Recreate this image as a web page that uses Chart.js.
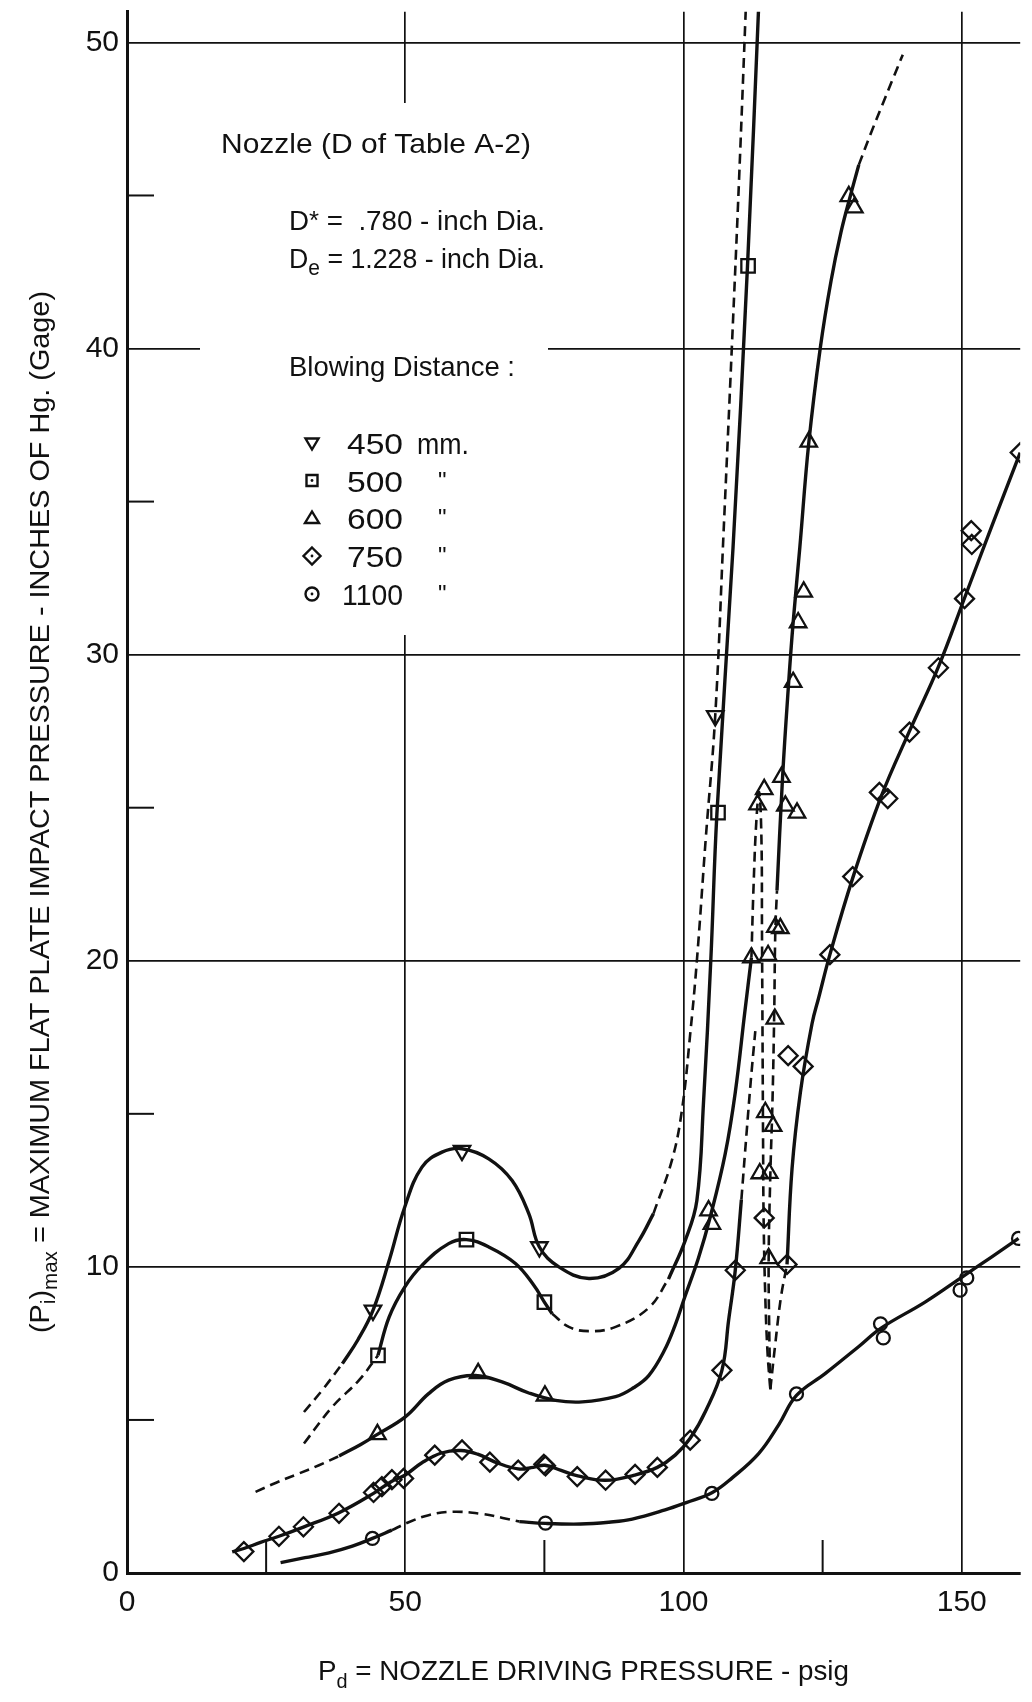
<!DOCTYPE html>
<html>
<head>
<meta charset="utf-8">
<title>Maximum flat plate impact pressure vs nozzle driving pressure</title>
<style>
  html, body { margin: 0; padding: 0; background: #fff; }
  #wrap { width: 1032px; height: 1702px; position: relative; }
  canvas { display: block; }
</style>
<script src="https://cdn.jsdelivr.net/npm/chart.js@4.4.1/dist/chart.umd.min.js"></script>
</head>
<body>
<div id="wrap"><canvas id="chart" width="1032" height="1702"></canvas></div>
<script>
// ---- axes ----
const xTicks = [0, 50, 100, 150];
const yTicks = [0, 10, 20, 30, 40, 50];
const xMinorTicks = [25, 75, 125];
const yMinorTicks = [5, 15, 25, 35, 45];
const xRange = [0, 160.5];
const yRange = [0, 51];

// ---- blowing distances (mm) ----
const seriesNames = ['450', '500', '600', '750', '1100'];

// ---- measured points [Pd psig, Pi in. Hg] ----
const pts450 = [[44.2, 8.58], [60.2, 13.8], [74.1, 10.65], [105.7, 28.0]];
const pts500 = [[45.1, 7.11], [61.0, 10.89], [75.0, 8.85], [106.2, 24.84], [111.6, 42.7]];
const pts600 = [
  [45.0, 4.53], [63.1, 6.52], [75.1, 5.79],
  [104.5, 11.84], [105.1, 11.4],
  [112.2, 20.1], [113.3, 25.1], [114.5, 25.6],
  [115.2, 20.18], [116.5, 21.1], [117.4, 21.06], [116.4, 18.1],
  [114.7, 15.05], [116.1, 14.6], [113.7, 13.05], [115.4, 13.06], [115.3, 10.28],
  [117.6, 26.0], [118.3, 25.06], [120.4, 24.83], [119.7, 29.1], [120.6, 31.05],
  [121.6, 32.05], [122.5, 36.95], [129.7, 44.97], [130.7, 44.6]
];
const pts750 = [
  [21.0, 0.7], [27.3, 1.2], [31.7, 1.51], [38.1, 1.95], [44.3, 2.63], [45.8, 2.82],
  [47.6, 3.05], [49.7, 3.09], [55.3, 3.85], [60.2, 4.02], [65.2, 3.62], [70.3, 3.36],
  [74.9, 3.55], [75.2, 3.5], [80.9, 3.15], [86.0, 3.03], [91.3, 3.22], [95.3, 3.45],
  [101.2, 4.34], [106.9, 6.62], [109.3, 9.89], [114.5, 11.6],
  [118.6, 10.08], [118.8, 16.9], [121.5, 16.55], [126.3, 20.2], [130.4, 22.75],
  [135.2, 25.5], [136.7, 25.3], [140.6, 27.47], [145.8, 29.57], [150.5, 31.83],
  [151.7, 34.05], [151.8, 33.6], [160.5, 36.6]
];
const pts1100 = [
  [44.1, 1.13], [75.2, 1.63], [105.1, 2.6], [120.3, 5.85], [135.4, 8.14],
  [135.9, 7.68], [149.7, 9.24], [150.9, 9.64], [160.2, 10.93]
];

// ---- faired curves, split where the line changes between solid and dashed ----
const c450a = [[31.8, 5.26], [35.2, 6.0], [38.7, 6.84]];
const c450b = [[38.7, 6.84], [41.5, 7.62], [44.2, 8.58], [47.1, 10.2], [49.9, 11.95], [53.0, 13.26],
  [56.6, 13.75], [60.2, 13.86], [65.0, 13.53], [69.2, 12.82], [72.2, 11.74], [74.1, 10.65],
  [77.6, 10.0], [83.0, 9.62], [88.4, 9.95], [92.0, 10.86], [94.6, 11.74]];
const c450c = [[94.6, 11.74], [97.9, 13.47], [99.7, 15.1], [101.2, 17.6], [102.4, 20.0],
  [104.0, 24.0], [105.7, 28.0], [107.2, 34.0], [108.7, 40.1], [110.0, 45.6], [111.3, 51.6]];

const c500a = [[31.8, 4.23], [36.9, 5.43], [41.7, 6.3], [45.1, 7.11]];
const c500b = [[45.1, 7.11], [47.1, 8.36], [49.9, 9.34], [53.0, 10.05], [57.8, 10.76], [61.0, 10.89],
  [65.0, 10.65], [69.8, 10.11], [73.1, 9.4], [75.0, 8.85], [76.4, 8.47]];
const c500c = [[76.4, 8.47], [79.4, 8.04], [83.0, 7.9], [87.8, 8.04], [93.75, 8.66], [97.3, 9.6]];
const c500d = [[97.3, 9.6], [100.3, 10.86], [102.4, 12.17], [103.6, 15.4], [104.9, 20.0],
  [106.0, 24.8], [108.9, 33.5], [111.5, 42.7], [113.6, 51.6]];

const c600a = [[23.1, 2.65], [26.8, 2.95], [30.9, 3.25], [34.5, 3.52], [38.1, 3.82]];
const c600b = [[38.1, 3.82], [42.0, 4.2], [45.0, 4.53], [50.0, 5.1], [54.2, 5.86], [57.8, 6.3],
  [62.6, 6.45], [67.4, 6.24], [72.2, 5.88], [77.0, 5.64], [81.8, 5.59], [87.8, 5.76],
  [91.0, 6.05], [93.75, 6.45], [96.5, 7.25], [98.5, 8.1], [100.2, 9.0], [102.7, 10.3],
  [104.8, 11.63], [107.5, 13.7], [109.3, 15.7], [111.0, 18.3], [112.2, 20.1]];
const c600c = [[112.2, 20.1], [112.6, 22.5], [113.1, 24.6], [113.6, 25.5], [114.0, 24.0],
  [114.1, 21.0], [114.2, 17.5], [114.3, 14.0], [114.4, 11.5], [114.7, 9.0], [115.1, 7.2], [115.6, 6.0]];
const c600d = [[115.6, 6.0], [115.4, 8.0], [115.3, 10.28], [115.6, 13.0], [116.0, 15.5],
  [116.3, 18.3], [116.5, 21.0], [116.8, 22.3]];
const c600e = [[116.8, 22.3], [117.8, 26.0], [118.9, 29.1], [119.7, 31.05], [120.9, 33.5],
  [122.5, 36.9], [124.6, 40.05], [126.5, 42.2], [128.3, 43.8], [130.0, 45.0], [131.5, 46.0]];
const c600f = [[131.5, 46.0], [133.6, 47.0], [135.7, 47.95], [137.6, 48.8], [139.4, 49.6]];

const c750a = [[18.9, 0.69], [21.0, 0.8], [24.0, 1.0], [27.3, 1.2], [31.7, 1.5], [38.1, 1.97],
  [44.3, 2.6], [47.6, 3.0], [50.0, 3.2], [53.0, 3.6], [56.5, 3.92], [60.0, 4.0], [63.0, 3.88],
  [66.5, 3.6], [70.3, 3.4], [73.0, 3.45], [75.1, 3.52], [78.0, 3.35], [81.0, 3.17], [86.0, 3.03],
  [91.2, 3.2], [95.3, 3.45], [98.5, 3.85], [101.2, 4.4], [104.0, 5.3], [106.9, 6.62],
  [108.1, 8.25], [109.3, 9.89], [110.4, 12.2]];
const c750b = [[110.4, 12.2], [111.3, 14.3], [112.1, 16.1], [112.9, 17.7]];
const c750c = [[115.6, 6.0], [116.5, 7.5], [117.5, 9.0], [118.6, 10.08]];
const c750d = [[118.6, 10.08], [119.5, 13.2], [121.0, 15.7], [123.1, 17.95], [124.3, 18.8],
  [126.3, 20.2], [130.4, 22.7], [135.6, 25.4], [140.6, 27.5], [145.8, 29.6], [150.5, 31.85],
  [155.5, 34.25], [160.5, 36.6]];

const c1100a = [[27.6, 0.34], [32.0, 0.5], [36.3, 0.66], [40.5, 0.88], [44.1, 1.13], [47.6, 1.4]];
const c1100b = [[47.6, 1.4], [50.5, 1.65], [54.2, 1.89], [58.5, 2.0], [63.8, 1.93], [67.5, 1.8], [70.5, 1.68]];
const c1100c = [[70.5, 1.68], [75.2, 1.62], [81.5, 1.6], [86.6, 1.66], [90.8, 1.76], [96.7, 2.06],
  [100.5, 2.3], [105.1, 2.62], [108.7, 3.1], [113.5, 3.9], [117.1, 4.84], [120.3, 5.8],
  [125.5, 6.52], [131.5, 7.4], [135.5, 8.0], [143.4, 8.85], [150.3, 9.7], [155.4, 10.33], [160.2, 10.93]];

// ---- styling ----
const INK = '#111';
const FONT = '"Liberation Sans", Arial, sans-serif';

const toXY = arr => arr.map(([x, y]) => ({ x, y }));

function curve(arr, dashed) {
  return {
    type: 'line',
    data: toXY(arr),
    borderColor: INK,
    borderWidth: dashed ? 2.6 : 3.4,
    borderDash: dashed ? [10, 6] : [],
    pointRadius: 0,
    tension: 0.4,
    fill: false
  };
}

function markers(arr, style, radius, rotation) {
  return {
    type: 'line',
    data: toXY(arr),
    showLine: false,
    pointStyle: style,
    pointRadius: radius,
    pointRotation: rotation || 0,
    pointBorderWidth: 2.3,
    pointBorderColor: INK,
    pointBackgroundColor: 'rgba(255,255,255,0)'
  };
}

const datasets = [
  curve(c450a, true), curve(c450b, false), curve(c450c, true),
  curve(c500a, true), curve(c500b, false), curve(c500c, true), curve(c500d, false),
  curve(c600a, true), curve(c600b, false), curve(c600c, true), curve(c600d, true),
  curve(c600e, false), curve(c600f, true),
  curve(c750a, false), curve(c750b, true), curve(c750c, true), curve(c750d, false),
  curve(c1100a, false), curve(c1100b, true), curve(c1100c, false),
  markers(pts450, 'triangle', 9.5, 180),
  markers(pts500, 'rect', 9.5),
  markers(pts600, 'triangle', 9.5),
  markers(pts750, 'rectRot', 9.5),
  markers(pts1100, 'circle', 6.5)
];

// ---- text helpers: runs of text fitted to a given width ----
function runsWidth(ctx, runs) {
  let w = 0;
  runs.forEach(r => { ctx.font = r.px + 'px ' + FONT; w += ctx.measureText(r.t).width; });
  return w;
}
function drawRuns(ctx, runs, x, y, targetW) {
  const natural = runsWidth(ctx, runs);
  const sx = targetW ? targetW / natural : 1;
  ctx.save();
  ctx.translate(x, y);
  ctx.scale(sx, 1);
  ctx.textBaseline = 'alphabetic';
  ctx.textAlign = 'left';
  let cx = 0;
  runs.forEach(r => {
    ctx.font = r.px + 'px ' + FONT;
    ctx.fillText(r.t, cx, r.dy || 0);
    cx += ctx.measureText(r.t).width;
  });
  ctx.restore();
}
function legendGlyph(ctx, style, x, y) {
  ctx.save();
  ctx.strokeStyle = INK;
  ctx.fillStyle = INK;
  ctx.lineWidth = 2.4;
  ctx.beginPath();
  if (style === 'down') {
    ctx.moveTo(x - 6.5, y - 4.5); ctx.lineTo(x + 6.5, y - 4.5); ctx.lineTo(x, y + 6.5); ctx.closePath();
  } else if (style === 'rect') {
    ctx.rect(x - 5.5, y - 5.5, 11, 11);
  } else if (style === 'up') {
    ctx.moveTo(x - 7, y + 5); ctx.lineTo(x + 7, y + 5); ctx.lineTo(x, y - 6.5); ctx.closePath();
  } else if (style === 'diamond') {
    ctx.moveTo(x, y - 8.5); ctx.lineTo(x + 8.5, y); ctx.lineTo(x, y + 8.5); ctx.lineTo(x - 8.5, y); ctx.closePath();
  } else {
    ctx.arc(x, y, 6.5, 0, Math.PI * 2);
  }
  ctx.stroke();
  if (style !== 'down' && style !== 'up') {
    ctx.beginPath(); ctx.arc(x, y, 1.4, 0, Math.PI * 2); ctx.fill();
  }
  ctx.restore();
}

const sheetDecor = {
  id: 'sheetDecor',
  beforeDatasetsDraw(chart) {
    const { ctx, scales: { x, y } } = chart;
    ctx.save();
    // minor ticks along both axes
    ctx.strokeStyle = INK;
    ctx.lineWidth = 2;
    yMinorTicks.forEach(v => {
      const py = y.getPixelForValue(v);
      ctx.beginPath(); ctx.moveTo(x.left, py); ctx.lineTo(x.left + 27, py); ctx.stroke();
    });
    xMinorTicks.forEach(v => {
      const px = x.getPixelForValue(v);
      ctx.beginPath(); ctx.moveTo(px, y.bottom); ctx.lineTo(px, y.bottom - 33); ctx.stroke();
    });
    // the notes block interrupts the grid
    ctx.fillStyle = '#fff';
    ctx.fillRect(200, 103, 348, 532);

    ctx.fillStyle = INK;
    drawRuns(ctx, [{ t: 'Nozzle (D of Table A-2)', px: 28 }], 221, 153, 310);
    drawRuns(ctx, [{ t: 'D', px: 28 }, { t: '*', px: 26, dy: -1 }, { t: ' =  .780 - inch Dia.', px: 28 }], 289, 230, 256);
    drawRuns(ctx, [{ t: 'D', px: 28 }, { t: 'e', px: 22, dy: 7 }, { t: ' = 1.228 - inch Dia.', px: 28 }], 289, 268, 256);
    drawRuns(ctx, [{ t: 'Blowing Distance :', px: 28 }], 289, 376, 226);

    const glyphs = ['down', 'rect', 'up', 'diamond', 'circle'];
    const rowsY = [443, 480.5, 518, 556, 594];
    seriesNames.forEach((name, i) => {
      legendGlyph(ctx, glyphs[i], 312, rowsY[i]);
      const left = name.length > 3 ? 342 : 347;
      const w = name.length > 3 ? 61 : 56;
      drawRuns(ctx, [{ t: name, px: 30 }], left, rowsY[i] + 11, w);
      if (i === 0) {
        drawRuns(ctx, [{ t: 'mm.', px: 30 }], 417, rowsY[i] + 11, 52);
      } else {
        drawRuns(ctx, [{ t: '"', px: 24 }], 438, rowsY[i] + 8);
      }
    });

    // axis titles
    drawRuns(ctx, [{ t: 'P', px: 28 }, { t: 'd', px: 20, dy: 8 }, { t: ' = NOZZLE DRIVING PRESSURE - psig', px: 28 }], 318, 1680, 531);
    ctx.save();
    ctx.translate(49, 1333);
    ctx.rotate(-Math.PI / 2);
    drawRuns(ctx, [
      { t: '(P', px: 28 }, { t: 'i', px: 20, dy: 6 }, { t: ')', px: 28 }, { t: 'max', px: 20, dy: 8 },
      { t: ' = MAXIMUM FLAT PLATE IMPACT PRESSURE - INCHES OF Hg. (Gage)', px: 28 }
    ], 0, 0, 1042);
    ctx.restore();
    ctx.restore();
  }
};

new Chart(document.getElementById('chart'), {
  type: 'line',
  data: { datasets },
  options: {
    responsive: false,
    animation: false,
    devicePixelRatio: 1,
    layout: { padding: { top: 10, right: 10, left: 0, bottom: 0 } },
    plugins: { legend: { display: false }, tooltip: { enabled: false } },
    scales: {
      x: {
        type: 'linear',
        min: xRange[0], max: xRange[1],
        position: 'bottom',
        afterFit(s) { s.height = 129; s.paddingLeft = 0; s.paddingRight = 0; },
        afterBuildTicks(s) { s.ticks = xTicks.map(v => ({ value: v })); },
        grid: {
          color: c => (c.tick && c.tick.value > 0) ? INK : 'rgba(0,0,0,0)',
          lineWidth: 1.7,
          drawTicks: false
        },
        border: { color: INK, width: 3 },
        ticks: { padding: 12, autoSkip: false, maxRotation: 0, color: INK, font: { family: FONT, size: 30 } }
      },
      y: {
        type: 'linear',
        min: yRange[0], max: yRange[1],
        position: 'left',
        afterFit(s) { s.width = 127; s.paddingTop = 0; s.paddingBottom = 0; },
        afterBuildTicks(s) { s.ticks = yTicks.map(v => ({ value: v })); },
        grid: {
          color: c => (c.tick && c.tick.value > 0) ? INK : 'rgba(0,0,0,0)',
          lineWidth: 1.7,
          drawTicks: false
        },
        border: { color: INK, width: 3 },
        ticks: { padding: 8, autoSkip: false, color: INK, font: { family: FONT, size: 30 } }
      }
    }
  },
  plugins: [sheetDecor]
});
</script>
</body>
</html>
